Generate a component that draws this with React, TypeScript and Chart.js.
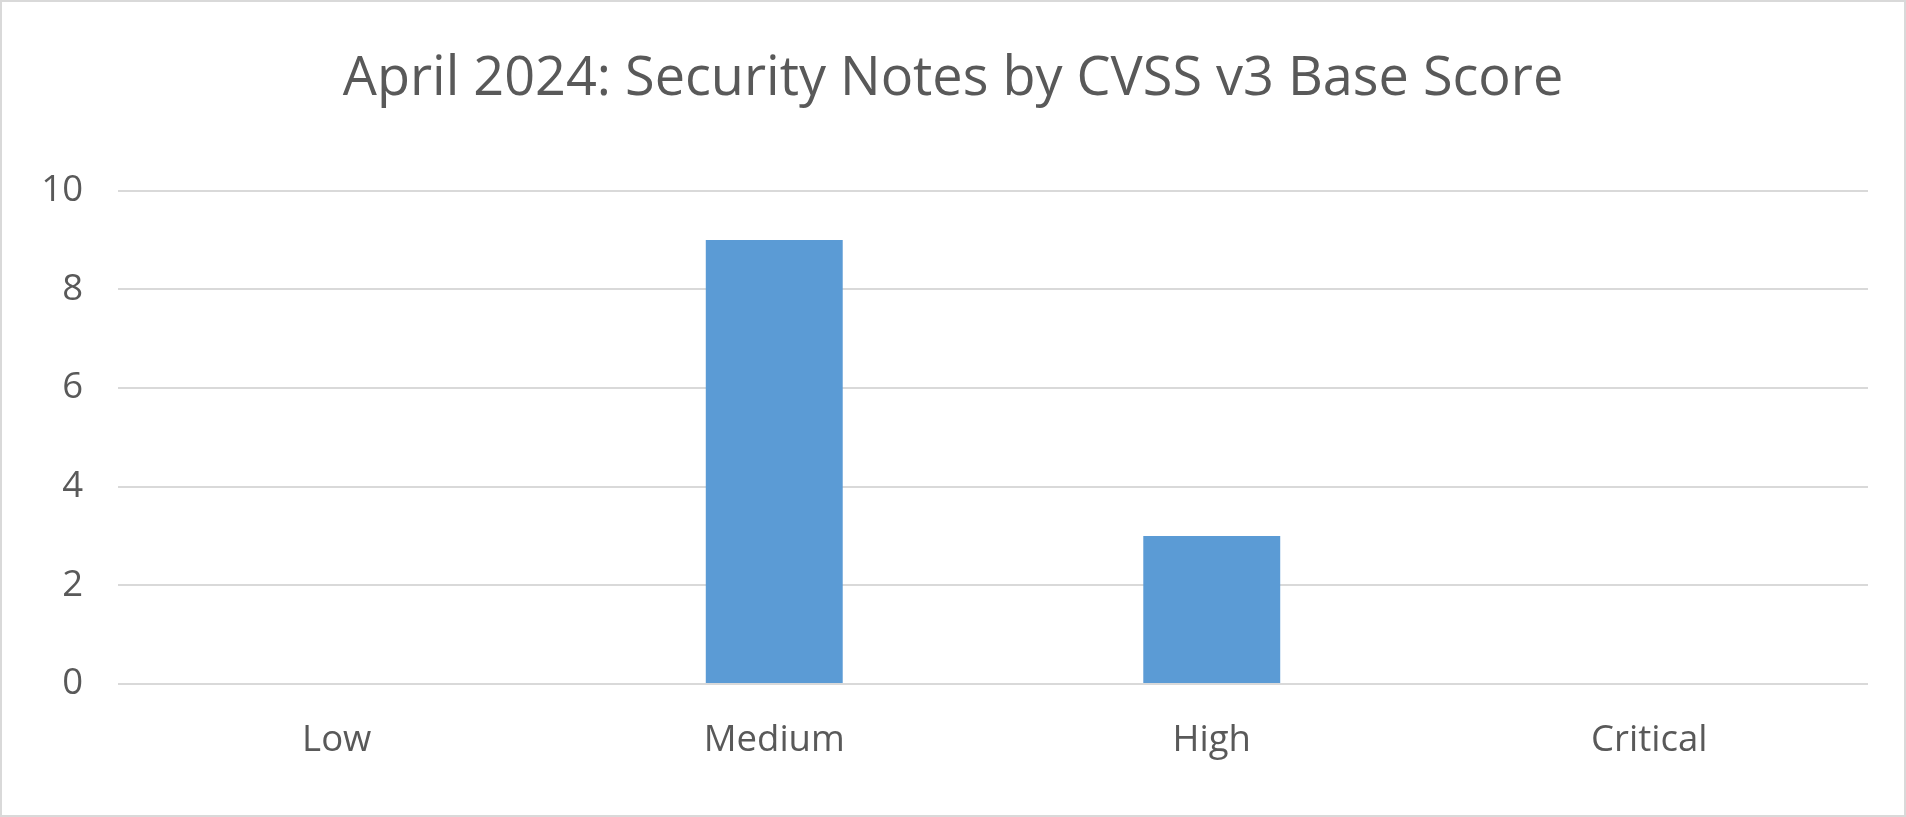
import { useEffect, useRef } from "react"
import { Chart, registerables } from "chart.js"

Chart.register(...registerables)

const categories = ["Low", "Medium", "High", "Critical"]
const noteCounts = [0, 9, 3, 0]
const chartTitle = "April 2024: Security Notes by CVSS v3 Base Score"

const textColor = "#595959"
const gridColor = "#d9d9d9"
const barColor = "#5b9bd5"
const fontFamily = "'Open Sans', 'Noto Sans', sans-serif"

export default function App() {
  const canvasRef = useRef<HTMLCanvasElement>(null)
  const chartRef = useRef<Chart | null>(null)

  useEffect(() => {
    if (!canvasRef.current) return
    if (chartRef.current) chartRef.current.destroy()

    const ctx = canvasRef.current.getContext("2d")
    if (!ctx) return

    chartRef.current = new Chart(ctx, {
      type: "bar",
      data: {
        labels: categories,
        datasets: [
          {
            label: "Security Notes",
            data: noteCounts,
            backgroundColor: barColor,
            borderWidth: 0,
            categoryPercentage: 1,
            barPercentage: 0.313,
          },
        ],
      },
      options: {
        animation: false,
        responsive: true,
        maintainAspectRatio: false,
        layout: {
          // equal side padding keeps the title centred on the whole canvas
          padding: { top: 0, right: 36, bottom: 0, left: 36 },
        },
        scales: {
          x: {
            grid: { display: false },
            border: { display: false },
            ticks: {
              color: textColor,
              padding: 27,
              font: { family: fontFamily, size: 36.5 },
            },
            afterFit: (scale: any) => {
              scale.height = 131
            },
          },
          y: {
            min: 0,
            max: 10,
            grid: { color: gridColor, lineWidth: 2, drawTicks: false },
            border: { display: false },
            ticks: {
              stepSize: 2,
              color: textColor,
              padding: 35,
              font: { family: fontFamily, size: 36.5 },
            },
            afterFit: (scale: any) => {
              scale.width = 80
            },
          },
        },
        plugins: {
          legend: { display: false },
          tooltip: { enabled: false },
          title: {
            display: true,
            text: chartTitle,
            color: textColor,
            font: { family: fontFamily, size: 54, weight: "normal" },
            padding: { top: 45, bottom: 79 },
          },
        },
      },
    })

    return () => {
      if (chartRef.current) {
        chartRef.current.destroy()
        chartRef.current = null
      }
    }
  }, [])

  return (
    <div
      style={{
        position: "absolute",
        top: 0,
        left: 0,
        width: 1906,
        height: 817,
        boxSizing: "border-box",
        border: `2px solid ${gridColor}`,
        background: "#ffffff",
      }}
    >
      <div style={{ position: "relative", width: "100%", height: "100%" }}>
        <canvas ref={canvasRef} />
      </div>
    </div>
  )
}
